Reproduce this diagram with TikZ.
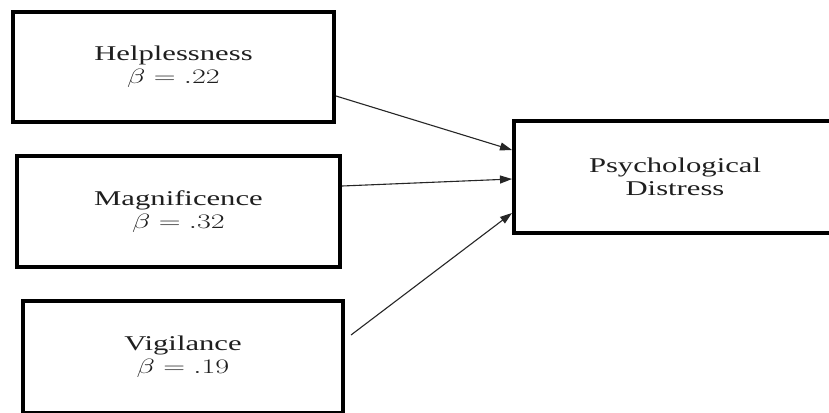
\documentclass[tikz,border=0pt]{standalone}
\usepackage{fontspec}
\usepackage{graphicx}
\setmainfont{Liberation Serif}
\usetikzlibrary{arrows.meta,calc}
\newcommand{\wide}[1]{\scalebox{1.46}[1]{#1}}
\tikzset{
  box/.style={draw=black, line width=4bp, inner sep=0pt, align=center,
    font=\fontsize{21bp}{22.7bp}\selectfont, text=black!88},
  link/.style={draw=black!85, line width=1.1bp,
    -{Triangle[length=12bp,width=8bp]}}
}
\begin{document}
\begin{tikzpicture}[x=1bp,y=-1bp]
\path[use as bounding box, clip] (0,0) rectangle (829,412);
\fill[white] (0,0) rectangle (829,412);
\node[box, minimum width=321bp, minimum height=110bp] (h) at (173.5,67)
  {\wide{Helplessness}\\ \wide{$\beta = .22$}};
\node[box, minimum width=323bp, minimum height=111bp] (m) at (178.5,211.5)
  {\wide{Magnificence}\\ \wide{$\beta = .32$}};
\node[box, minimum width=320bp, minimum height=112bp] (v) at (183,357)
  {\wide{Vigilance}\\ \wide{$\beta = .19$}};
\node[box, minimum width=322bp, minimum height=112bp] (d) at (675,177)
  {\wide{Psychological}\\ \wide{Distress}};
\coordinate (a1) at ($(h.east)+(0,29)$);
\coordinate (a2) at ($(m.east)+(0,-25.5)$);
\coordinate (a3) at ($(v.east)+(6,-22)$);
\coordinate (e1) at ($(d.west)+(0,-27)$);
\coordinate (e2) at ($(d.west)+(0,2)$);
\coordinate (e3) at ($(d.west)+(0,36)$);
\draw[link] (a1) -- (e1);
\draw[link] (a2) -- (e2);
\draw[link] (a3) -- (e3);
\end{tikzpicture}
\end{document}
